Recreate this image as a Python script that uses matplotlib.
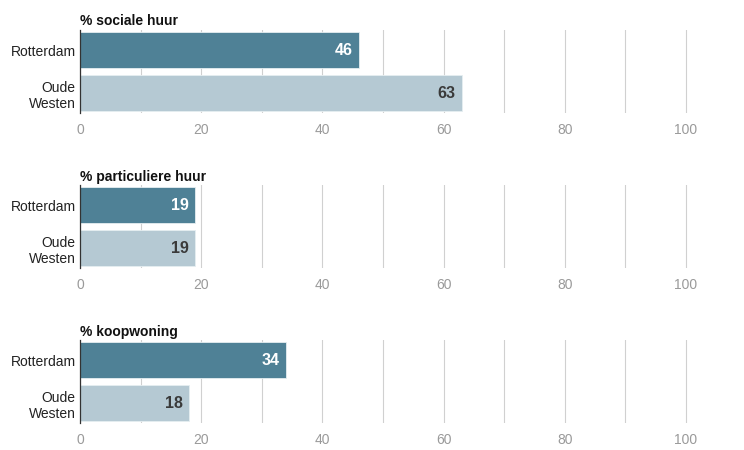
import matplotlib
matplotlib.use("Agg")
import matplotlib.pyplot as plt

plt.rcParams["font.family"] = ["Liberation Sans", "DejaVu Sans"]

titles = ["% sociale huur", "% particuliere huur", "% koopwoning"]
places = ["Rotterdam", "Oude\nWesten"]
rotterdam = [46, 19, 34]
oude_westen = [63, 19, 18]
ticks = [0, 20, 40, 60, 80, 100]

DARK = "#4f8196"
LIGHT = "#b5c9d3"

fig = plt.figure(figsize=(7.44, 4.5), dpi=100)

# panel boxes in figure fractions; xlim goes a bit past 100 so the last gridline shows
XMAX = 101
lefts = 80 / 744
width = (686 - 80) / 100 * XMAX / 744
bottoms = [0.749, 0.404, 0.060]
height = 0.184

for i, title in enumerate(titles):
    ax = fig.add_axes([lefts, bottoms[i], width, height])
    vals = [rotterdam[i], oude_westen[i]]
    colors = [DARK, LIGHT]
    ax.barh([0, 1], vals, height=0.84, color=colors, edgecolor="#e6eef1",
            linewidth=0.6, zorder=3)
    for y, v, c in zip([0, 1], vals, colors):
        txt_col = "white" if c == DARK else "#3a3a3a"
        ax.text(v - 1.0, y, str(v), ha="right", va="center", fontsize=11.5,
                fontweight="bold", color=txt_col, zorder=4)

    ax.set_xlim(0, XMAX)
    ax.set_ylim(1.465, -0.465)
    ax.set_xticks(ticks)
    ax.set_xticks(range(10, 101, 20), minor=True)
    ax.set_xticklabels([str(t) for t in ticks], color="#9a9a9a", fontsize=10)
    ax.grid(axis="x", which="both", color="#d0d0d0", linewidth=0.8, zorder=0)
    ax.tick_params(axis="x", which="both", length=0, pad=7)
    ax.set_yticks([0, 1])
    ax.set_yticklabels(places, fontsize=10, color="#222222")
    ax.tick_params(axis="y", length=0, pad=3)
    for s in ["top", "right", "bottom"]:
        ax.spines[s].set_visible(False)
    ax.spines["left"].set_color("#333333")
    ax.spines["left"].set_linewidth(0.9)
    ax.spines["left"].set_zorder(5)
    ax.text(0, 1.02, title, transform=ax.transAxes, ha="left", va="bottom",
            fontsize=10, fontweight="bold", color="#111111")

fig.savefig("out.png", dpi=100)
